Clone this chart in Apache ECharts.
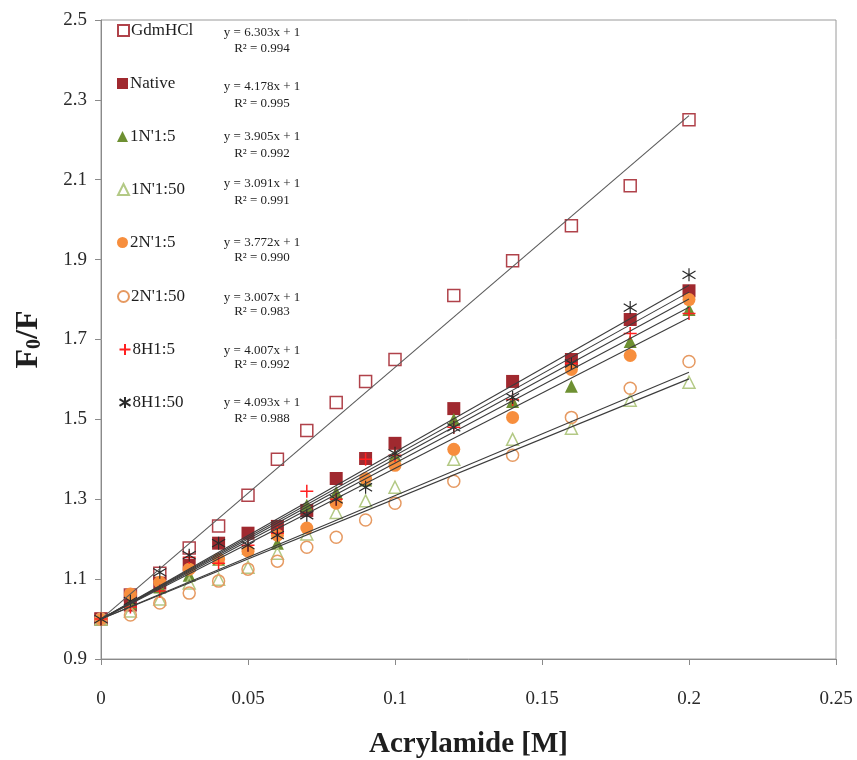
<!DOCTYPE html>
<html>
<head>
<meta charset="utf-8">
<script src="https://cdn.jsdelivr.net/npm/echarts@6/dist/echarts.min.js"></script>
<style>
  html, body { margin: 0; padding: 0; background: #fff; }
  #chart { width: 857px; height: 760px; }
</style>
</head>
<body>
<div id="chart"></div>
<script>
// Acrylamide concentrations [M]
const acrylamide = [0, 0.01, 0.02, 0.03, 0.04, 0.05, 0.06, 0.07, 0.08, 0.09, 0.1, 0.12, 0.14, 0.16, 0.18, 0.2];

// F0/F readings per sample
const gdmhcl  = [1.0, 1.06, 1.115, 1.178, 1.233, 1.31, 1.40, 1.472, 1.542, 1.595, 1.65, 1.81, 1.897, 1.985, 2.085, 2.25];
const native  = [1.0, 1.035, 1.09, 1.135, 1.19, 1.215, 1.232, 1.272, 1.352, 1.402, 1.44, 1.527, 1.595, 1.65, 1.75, 1.822];
const n1to5   = [1.0, 1.04, 1.08, 1.11, 1.15, 1.178, 1.19, 1.285, 1.317, 1.348, 1.41, 1.50, 1.545, 1.583, 1.695, 1.775];
const n1to50  = [1.0, 1.02, 1.05, 1.09, 1.10, 1.13, 1.165, 1.213, 1.267, 1.296, 1.33, 1.40, 1.45, 1.478, 1.548, 1.593];
const n2to5   = [1.0, 1.063, 1.092, 1.125, 1.15, 1.17, 1.21, 1.228, 1.29, 1.352, 1.385, 1.425, 1.505, 1.625, 1.66, 1.80];
const n2to50  = [1.0, 1.01, 1.04, 1.065, 1.095, 1.125, 1.145, 1.18, 1.205, 1.248, 1.29, 1.345, 1.41, 1.505, 1.578, 1.645];
const h8to5   = [1.0, 1.03, 1.07, 1.155, 1.14, 1.185, 1.215, 1.32, 1.30, 1.40, 1.41, 1.48, 1.55, 1.64, 1.715, 1.765];
const h8to50  = [1.0, 1.045, 1.117, 1.16, 1.19, 1.185, 1.21, 1.26, 1.30, 1.33, 1.415, 1.48, 1.555, 1.64, 1.78, 1.862];

const sampleNames = ['GdmHCl', 'Native', "1N'1:5", "1N'1:50", "2N'1:5", "2N'1:50", '8H1:5', '8H1:50'];
const sampleValues = [gdmhcl, native, n1to5, n1to50, n2to5, n2to50, h8to5, h8to50];

// Stern-Volmer fits: F0/F = Ksv*[Q] + 1
const fitSlopes = [6.303, 4.178, 3.905, 3.091, 3.772, 3.007, 4.007, 4.093];
const fitR2 = ['0.994', '0.995', '0.992', '0.991', '0.990', '0.983', '0.992', '0.988'];

// Axis ticks
const xTicks = { min: 0, max: 0.25, step: 0.05 };
const yTicks = { min: 0.9, max: 2.5, step: 0.2 };

const SERIF = '"Liberation Serif", "Times New Roman", serif';

const plusPath = 'path://M5,0L5,10M0,5L10,5';
const starPath = 'path://M5,0L5,10M0,2L10,8M0,8L10,2';

const markerStyles = [
  { symbol: 'rect', size: 12, item: { color: 'rgba(255,255,255,0)', borderColor: '#b0424a', borderWidth: 1.5 } },
  { symbol: 'rect', size: 13, item: { color: '#a0292f' } },
  { symbol: 'triangle', size: 13, item: { color: '#6e9032' } },
  { symbol: 'triangle', size: 12, item: { color: 'rgba(255,255,255,0)', borderColor: '#b3c985', borderWidth: 1.5 } },
  { symbol: 'circle', size: 13, item: { color: '#f78e3d' } },
  { symbol: 'circle', size: 12, item: { color: 'rgba(255,255,255,0)', borderColor: '#e69a62', borderWidth: 1.5 } },
  { symbol: plusPath, size: 13, item: { color: 'none', borderColor: '#ff2020', borderWidth: 1.5 } },
  { symbol: starPath, size: 13, item: { color: 'none', borderColor: '#2a2a2a', borderWidth: 1.2 } }
];

// Legend rows and equation blocks, stacked down the upper-left corner
const rowCenters = [31, 84, 137, 190, 243, 297, 350, 403];
const eqLine1 = [33, 87, 137, 184, 243, 298, 351, 403];
const eqLine2 = [49, 104, 154, 201, 258, 312, 365, 419];

const scatterSeries = sampleNames.map((name, i) => ({
  name: name,
  type: 'scatter',
  symbol: markerStyles[i].symbol,
  symbolSize: markerStyles[i].size,
  itemStyle: Object.assign({ opacity: 1 }, markerStyles[i].item),
  data: acrylamide.map((x, j) => [x, sampleValues[i][j]]),
  z: 2
}));

const fitSeries = fitSlopes.map((k, i) => ({
  name: sampleNames[i] + ' fit',
  type: 'line',
  showSymbol: false,
  silent: true,
  lineStyle: { color: i === 0 ? '#5a5a5a' : '#3c3c3c', width: 1.1 },
  data: [[acrylamide[0], k * acrylamide[0] + 1], [acrylamide[acrylamide.length - 1], k * acrylamide[acrylamide.length - 1] + 1]],
  z: 3
}));

const legends = sampleNames.map((name, i) => ({
  data: [name],
  left: 117,
  top: rowCenters[i] - 9,
  orient: 'horizontal',
  itemWidth: 11,
  itemHeight: 11,
  itemGap: 2,
  padding: 0,
  selectedMode: false,
  textStyle: { fontFamily: SERIF, fontSize: 17, color: '#1e1e1e', padding: [0, 0, 0, -3] }
}));

const eqTexts = [];
fitSlopes.forEach((k, i) => {
  eqTexts.push({
    type: 'text', x: 262, y: eqLine1[i],
    style: { text: 'y = ' + k.toFixed(3) + 'x + 1', font: '13px ' + SERIF, fill: '#1e1e1e', textAlign: 'center', textVerticalAlign: 'middle' }
  });
  eqTexts.push({
    type: 'text', x: 262, y: eqLine2[i],
    style: { text: 'R² = ' + fitR2[i], font: '13px ' + SERIF, fill: '#1e1e1e', textAlign: 'center', textVerticalAlign: 'middle' }
  });
});

const chart = echarts.init(document.getElementById('chart'));
chart.setOption({
  backgroundColor: '#ffffff',
  animation: false,
  grid: {
    left: 101, right: 21, top: 20, bottom: 101,
    outerBoundsMode: 'none', containLabel: false,
    show: true, borderColor: '#9a9a9a', borderWidth: 1
  },
  legend: legends,
  xAxis: {
    type: 'value',
    min: xTicks.min, max: xTicks.max, interval: xTicks.step,
    name: 'Acrylamide [M]',
    nameLocation: 'middle',
    nameGap: 71,
    nameTextStyle: { fontFamily: SERIF, fontSize: 29, fontWeight: 'bold', color: '#1e1e1e' },
    axisLine: { lineStyle: { color: '#8a8a8a' } },
    axisTick: { length: 6, lineStyle: { color: '#8a8a8a' } },
    axisLabel: { fontFamily: SERIF, fontSize: 19, color: '#2a2a2a', margin: 31 },
    splitLine: { show: false }
  },
  yAxis: {
    type: 'value',
    min: yTicks.min, max: yTicks.max, interval: yTicks.step,
    name: '{a|F}{b|0}{a|/F}',
    nameLocation: 'middle',
    nameGap: 56,
    nameTextStyle: {
      rich: {
        a: { fontFamily: SERIF, fontSize: 32, fontWeight: 'bold', color: '#1e1e1e' },
        b: { fontFamily: SERIF, fontSize: 20, fontWeight: 'bold', color: '#1e1e1e', verticalAlign: 'bottom', padding: [11, 0, 0, 0] }
      }
    },
    axisLine: { show: true, lineStyle: { color: '#8a8a8a' } },
    axisTick: { show: true, length: 6, lineStyle: { color: '#8a8a8a' } },
    axisLabel: { fontFamily: SERIF, fontSize: 19, color: '#2a2a2a', margin: 14, formatter: v => v.toFixed(1) },
    splitLine: { show: false }
  },
  graphic: eqTexts,
  series: scatterSeries.concat(fitSeries)
});
</script>
</body>
</html>
